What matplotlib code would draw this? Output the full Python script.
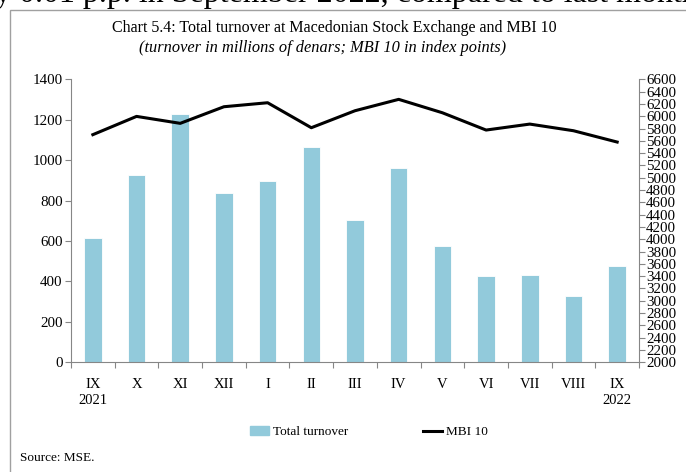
import numpy as np
import matplotlib.pyplot as plt
from matplotlib.patches import Rectangle
from matplotlib.lines import Line2D

months = ['IX', 'X', 'XI', 'XII', 'I', 'II', 'III', 'IV', 'V', 'VI', 'VII', 'VIII', 'IX']
years = ['2021', '', '', '', '', '', '', '', '', '', '', '', '2022']
turnover = [613, 927, 1227, 838, 898, 1067, 702, 963, 577, 425, 430, 326, 475]
mbi10 = [5700, 5997, 5884, 6154, 6219, 5813, 6089, 6274, 6056, 5775, 5872, 5764, 5580]

bar_col = '#92cadb'
grey = '#868686'
plt.rcParams['font.family'] = ['Liberation Serif', 'DejaVu Serif']

fig = plt.figure(figsize=(6.86, 4.72), dpi=100)

# clipped line of text from the page above the chart
fig.text(-0.008, 1 - 2/472, 'y 0.01 p.p. in September 2022, compared to last month',
         fontsize=23, ha='left', va='baseline')
# outer frame
fig.patches.append(Rectangle((10/686, -0.1), 1.2, (472-10)/472 + 0.1,
                             transform=fig.transFigure, fill=False,
                             edgecolor='#a0a0a0', lw=1.0))

fig.text(0.488, 0.940, 'Chart 5.4: Total turnover at Macedonian Stock Exchange and MBI 10',
         fontsize=11.5, ha='center', va='center')
fig.text(0.47, 0.898, '(turnover in millions of denars; MBI 10 in index points)',
         fontsize=11.8, ha='center', va='center', style='italic')

ax = fig.add_axes([0.1035, 0.2324, 0.828, 0.5996])
x = np.arange(len(months))
ax.bar(x, turnover, width=0.4, color=bar_col, edgecolor='white', lw=0.6, zorder=2)
ax.set_xlim(-0.5, len(months) - 0.5)
ax.set_ylim(0, 1400)
ax.set_yticks(np.arange(0, 1401, 200))
ax.set_xticks(np.arange(-0.5, len(months), 1))
ax.set_xticklabels([])
ax.tick_params(axis='x', length=4, color=grey, direction='out')
ax.tick_params(axis='y', length=4, color=grey, direction='out', labelsize=10.8, pad=2)
for i, (m, yr) in enumerate(zip(months, years)):
    lab = m if not yr else m + '\n' + yr
    ax.text(i, -0.055, lab, transform=ax.get_xaxis_transform(), ha='center', va='top',
            fontsize=10.5, linespacing=1.35)
ax.spines['top'].set_visible(False)
ax.spines['left'].set_color(grey)
ax.spines['bottom'].set_color(grey)
ax.spines['right'].set_visible(False)

ax2 = ax.twinx()
ax2.plot(x, mbi10, color='black', lw=2.2, zorder=3)
ax2.set_ylim(2000, 6600)
ax2.set_yticks(np.arange(2000, 6601, 200))
ax2.tick_params(axis='y', length=4, color=grey, direction='out', labelsize=10.8, pad=1)
ax2.spines['top'].set_visible(False)
ax2.spines['left'].set_visible(False)
ax2.spines['bottom'].set_visible(False)
ax2.spines['right'].set_color(grey)

handles = [Rectangle((0, 0), 1, 1, color=bar_col), Line2D([], [], color='black', lw=2.2)]
fig.legend(handles, ['Total turnover', 'MBI 10'], loc='center', bbox_to_anchor=(0.538, 0.084),
           ncol=2, frameon=False, fontsize=9.5, handlelength=1.45, handletextpad=0.3,
           columnspacing=5.7)

fig.text(20/686, 1 - 458/472, 'Source: MSE.', fontsize=9.5, ha='left', va='center')

plt.savefig('out.png', dpi=100)
